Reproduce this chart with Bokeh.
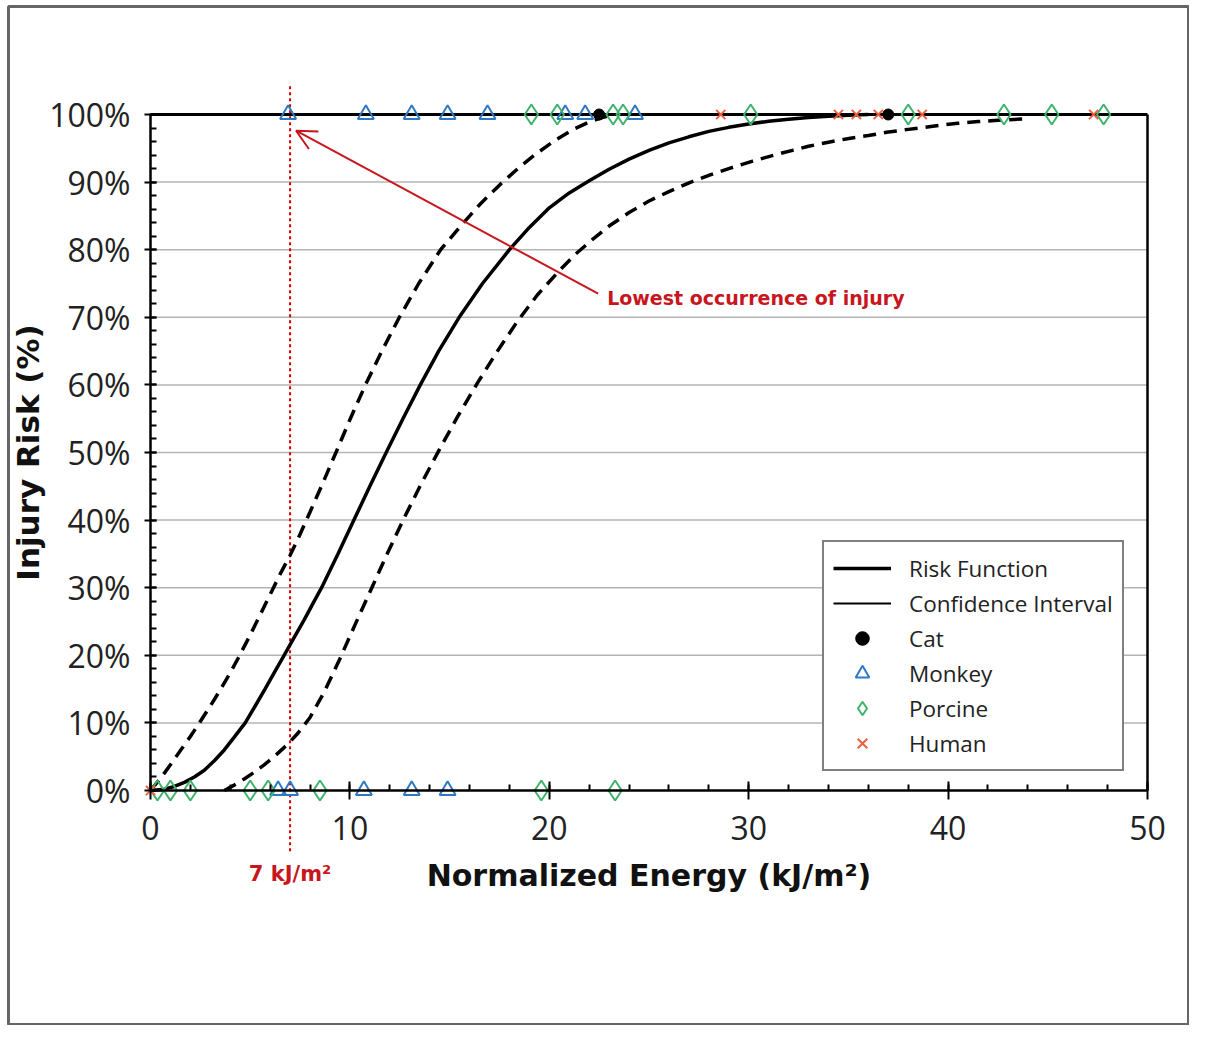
from bokeh.plotting import figure
from bokeh.models import (Range1d, FixedTicker, PrintfTickFormatter, Legend, LegendItem,
                          Arrow, OpenHead, Label)
from bokeh.embed import file_html
from bokeh.resources import INLINE

# ---------------- data ----------------
x_ticks = [0, 10, 20, 30, 40, 50]
x_minor = [0, 2, 4, 6, 8, 10, 12, 14, 16, 18, 20, 22, 24, 26, 28, 30, 32, 34, 36, 38, 40, 42, 44, 46, 48, 50]
y_ticks = [0, 10, 20, 30, 40, 50, 60, 70, 80, 90, 100]
y_minor = [0, 2, 4, 6, 8, 10, 12, 14, 16, 18, 20, 22, 24, 26, 28, 30, 32, 34, 36, 38, 40, 42, 44, 46, 48, 50,
           52, 54, 56, 58, 60, 62, 64, 66, 68, 70, 72, 74, 76, 78, 80, 82, 84, 86, 88, 90, 92, 94, 96, 98, 100]
grid_levels = [10, 20, 30, 40, 50, 60, 70, 80, 90]

risk_x = [0, 0.7, 1.2, 1.7, 2.2, 2.7, 3.2, 3.7, 4.2, 4.75, 5.25, 5.74, 6.22, 6.7, 7.2, 7.7, 8.17, 8.58, 9.4,
          10.2, 11.0, 11.82, 12.66, 13.53, 14.45, 15.48, 16.65, 18.0, 19.0, 20.0, 21.0, 22.0, 23.0, 24.0,
          25.0, 26.0, 27.0, 28.0, 29.0, 30.0, 31.0, 32.0, 33.0, 34.0, 35.0, 36.0]
risk_y = [0, 0.2, 0.6, 1.2, 2.0, 3.0, 4.4, 6.0, 7.9, 10.0, 12.5, 15.0, 17.5, 20.0, 22.6, 25.2, 27.8, 30, 35,
          40, 45, 50, 55, 60, 65, 70, 75, 80, 83.3, 86.2, 88.4, 90.2, 91.9, 93.4,
          94.7, 95.8, 96.7, 97.5, 98.1, 98.6, 99.0, 99.3, 99.55, 99.75, 99.9, 100]

ci_upper_x = [0, 0.5, 1, 1.5, 2, 2.45, 3, 3.5, 4, 4.4, 5, 5.5, 6.1, 6.5, 7, 7.5, 8, 8.6, 9.3, 10.02, 10.78,
              11.6, 12.48, 13.45, 14.55, 15.7, 16.55, 17.55, 18.5, 19.3, 20.3, 21.2, 22.0, 22.7, 23.3]
ci_upper_y = [0, 1.8, 3.8, 5.9, 8.0, 10, 12.5, 14.9, 17.4, 19.6, 23.0, 26.0, 29.6, 32.0, 34.8, 37.9, 41.2, 45.2,
              50, 55, 60, 65, 70, 75, 80, 84, 86.8, 89.7, 92.2, 94.1, 96.2, 97.8, 98.9, 99.6, 100]

ci_lower_x = [3.7, 4.2, 4.7, 5.2, 5.7, 6.2, 6.9, 7.4, 8.0, 8.7, 9.5, 10.3, 11.1, 11.9, 12.7, 13.6, 14.5, 15.4,
              16.4, 17.4, 18.4, 19.4, 20.5, 21.3, 22.2, 23.0, 24.0, 25.0, 26.0, 27.1, 28.0, 29.0, 30.2, 31.4,
              32.2, 33.0, 34.0, 35.1, 36.0, 37.0, 38.0, 38.8, 39.6, 40.5, 41.5, 42.5, 43.8]
ci_lower_y = [0, 0.8, 1.7, 2.7, 3.8, 5.0, 6.9, 8.5, 10.8, 14.5, 19.5, 24.8, 30, 35.2, 40.2, 45.5, 50.5, 55.3,
              60.3, 65.0, 69.4, 73.3, 76.9, 79.3, 81.6, 83.5, 85.5, 87.2, 88.6, 90.0, 91.0, 92.0, 93.1, 94.1,
              94.7, 95.3, 95.9, 96.5, 96.9, 97.4, 97.8, 98.1, 98.4, 98.7, 98.95, 99.15, 99.35]

cat_x = [22.5, 37.0]
cat_y = [100, 100]
monkey_x = [6.9, 10.8, 13.1, 14.9, 16.9, 20.8, 21.8, 24.3, 6.4, 7.0, 10.7, 13.1, 14.9]
monkey_y = [100, 100, 100, 100, 100, 100, 100, 100, 0, 0, 0, 0, 0]
porcine_x = [19.1, 20.4, 23.2, 23.7, 30.1, 38.0, 42.8, 45.2, 47.8, 0.35, 1.0, 2.0, 5.0, 5.9, 8.5, 19.6, 23.3]
porcine_y = [100, 100, 100, 100, 100, 100, 100, 100, 100, 0, 0, 0, 0, 0, 0, 0, 0]
human_x = [0.0, 28.6, 34.5, 35.4, 36.5, 38.7, 47.3]
human_y = [0, 100, 100, 100, 100, 100, 100]

threshold_x = 7
threshold_label = "7 kJ/m²"
callout_text = "Lowest occurrence of injury"
callout_start = (22.45, 73.5)
callout_end = (7.3, 97.6)

# ---------------- layout constants ----------------
W, H = 1189, 1025
FL, FT = 8, 6                      # frame left / top offsets inside the figure
X0_PX, PX_PER_X = 150.0, 19.94     # x = 0 at this pixel (figure coords)
Y0_PX, PX_PER_Y = 790.0, 6.76      # y = 0 at this pixel from top
x_range = Range1d((FL - X0_PX) / PX_PER_X, (W - X0_PX) / PX_PER_X)
y_range = Range1d((Y0_PX - H) / PX_PER_Y, (Y0_PX - FT) / PX_PER_Y)

RED = "#c8161e"
p = figure(width=W, height=H, output_backend="svg", toolbar_location=None, title=None,
           x_range=x_range, y_range=y_range,
           min_border_left=FL, min_border_right=0, min_border_top=FT, min_border_bottom=0)
p.outline_line_color = "#666666"
p.outline_line_width = 3
p.grid.visible = False

# grid lines and data box
p.segment(x0=0, x1=50, y0=grid_levels, y1=grid_levels, line_color="#b4b4b4", line_width=1.5)
p.segment(x0=[0], x1=[50], y0=[100], y1=[100], line_color="black", line_width=3)
p.segment(x0=[50], x1=[50], y0=[0], y1=[100], line_color="black", line_width=2.5)

# threshold line
p.segment(x0=[threshold_x], x1=[threshold_x], y0=[-9], y1=[104.5], line_color="#d00000",
          line_width=2, line_dash="3 3")

# curves
r_up = p.line(ci_upper_x, ci_upper_y, line_color="black", line_width=3.5, line_dash="13 8")
r_lo = p.line(ci_lower_x, ci_lower_y, line_color="black", line_width=3.5, line_dash="13 8")
r_risk = p.line(risk_x, risk_y, line_color="black", line_width=3.5)
r_ci_leg = p.line(x=[float("nan")], y=[float("nan")], line_color="black", line_width=2)

# markers
r_cat = p.scatter(cat_x, cat_y, marker="circle", size=11, fill_color="black", line_color="black")
r_monkey = p.scatter(monkey_x, monkey_y, marker="triangle", size=16, fill_color=None,
                     line_color="#2f78c4", line_width=2)
r_porc = p.scatter(porcine_x, porcine_y, marker="diamond", size=20, fill_color=None,
                   line_color="#3fb26b", line_width=2)
r_human = p.scatter(human_x, human_y, marker="x", size=13, line_color="#ef5f3f", line_width=2)

# callout
p.add_layout(Arrow(end=OpenHead(size=20, line_color=RED, line_width=2),
                   x_start=callout_start[0], y_start=callout_start[1],
                   x_end=callout_end[0], y_end=callout_end[1],
                   line_color=RED, line_width=2))
p.add_layout(Label(x=callout_start[0] + 0.45, y=callout_start[1] - 0.6, text=callout_text,
                   text_font="DejaVu Sans", text_font_style="bold", text_font_size="19px",
                   text_color=RED, text_baseline="middle", text_align="left"))
p.add_layout(Label(x=threshold_x, y=-12.4, text=threshold_label,
                   text_font="DejaVu Sans", text_font_style="bold", text_font_size="21px",
                   text_color=RED, text_baseline="middle", text_align="center"))

# axes
xa = p.xaxis[0]
xa.fixed_location = 0
xa.bounds = (0, 50)
xa.ticker = FixedTicker(ticks=x_ticks, minor_ticks=x_minor)
xa.axis_label = "Normalized Energy (kJ/m²)"
xa.axis_label_text_font = "DejaVu Sans"
xa.axis_label_text_font_style = "bold"
xa.axis_label_text_font_size = "30px"
xa.axis_label_text_color = "#111"
xa.axis_label_standoff = 15
xa.major_label_text_font = "Open Sans"
xa.major_label_text_font_size = "32px"
xa.major_label_text_color = "#222"
xa.major_label_standoff = 16
xa.major_tick_in = 9
xa.major_tick_out = 9
xa.minor_tick_in = 6
xa.minor_tick_out = 0
xa.axis_line_width = 2.5
xa.major_tick_line_width = 2
xa.minor_tick_line_width = 2

ya = p.yaxis[0]
ya.fixed_location = 0
ya.bounds = (0, 100)
ya.ticker = FixedTicker(ticks=y_ticks, minor_ticks=y_minor)
ya.formatter = PrintfTickFormatter(format="%d%%")
ya.axis_label = "Injury Risk (%)"
ya.axis_label_text_font = "DejaVu Sans"
ya.axis_label_text_font_style = "bold"
ya.axis_label_text_font_size = "31px"
ya.axis_label_text_color = "#111"
ya.axis_label_standoff = 0
ya.major_label_text_font = "Open Sans"
ya.major_label_text_font_size = "32px"
ya.major_label_text_color = "#222"
ya.major_label_standoff = 14
ya.major_tick_in = 6
ya.major_tick_out = 6
ya.minor_tick_in = 6
ya.minor_tick_out = 0
ya.axis_line_width = 2.5
ya.major_tick_line_width = 2
ya.minor_tick_line_width = 2

# legend
legend = Legend(items=[
    LegendItem(label="Risk Function", renderers=[r_risk]),
    LegendItem(label="Confidence Interval", renderers=[r_ci_leg]),
    LegendItem(label="Cat", renderers=[r_cat]),
    LegendItem(label="Monkey", renderers=[r_monkey]),
    LegendItem(label="Porcine", renderers=[r_porc]),
    LegendItem(label="Human", renderers=[r_human]),
], location=(814, 254))
legend.label_text_font = "Open Sans"
legend.label_text_font_size = "22.5px"
legend.label_text_color = "#222"
legend.label_standoff = 18
legend.glyph_width = 58
legend.glyph_height = 34
legend.label_height = 26
legend.spacing = 1
legend.padding = 9
legend.margin = 0
legend.border_line_color = "black"
legend.border_line_width = 2
legend.background_fill_alpha = 1
p.add_layout(legend)

open("out.html", "w").write(file_html(p, INLINE))
